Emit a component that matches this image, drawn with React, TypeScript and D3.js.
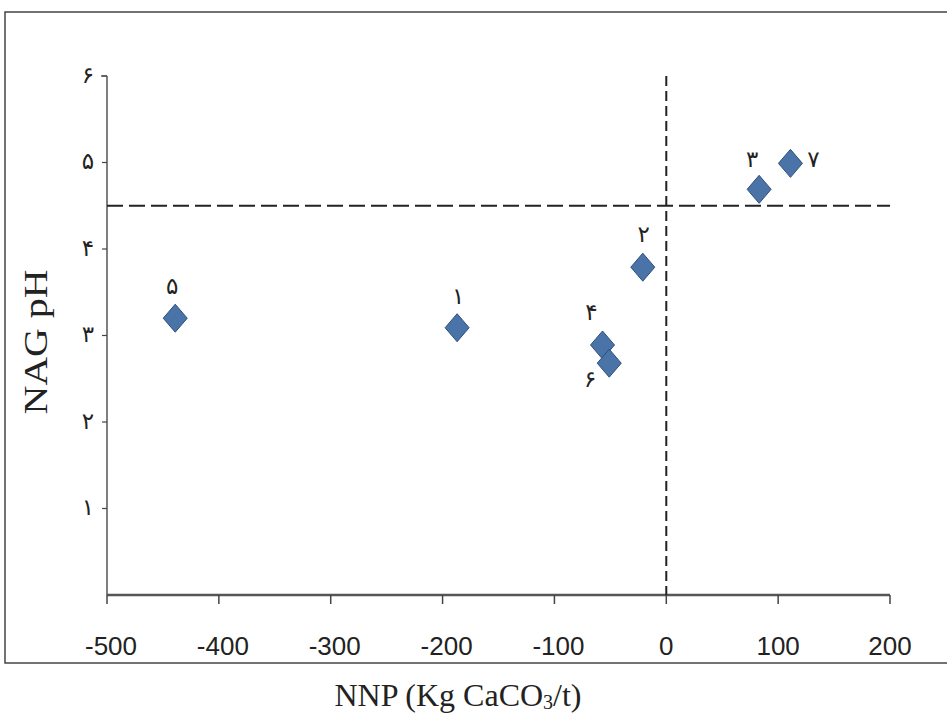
import React from "react";
import * as d3 from "d3";

const labels = ["۱", "۲", "۳", "۴", "۵", "۶", "۷"];
const nnp = [-187, -21, 83, -57, -439, -51, 111];
const nagPh = [3.09, 3.79, 4.69, 2.89, 3.2, 2.68, 4.99];
const xTicks = [-500, -400, -300, -200, -100, 0, 100, 200];
const yTicks = [1, 2, 3, 4, 5, 6];
const yTickLabels = ["۱", "۲", "۳", "۴", "۵", "۶"];
const phThreshold = 4.5;
const nnpThreshold = 0;

// label centre offsets per point (dx, dy)
const labelPos: [number, number][] = [
  [1, -31], [1, -32], [-7, -29], [-11, -32], [-3, -31], [-19, 17], [23, -3],
];

export default function App() {
  const W = 947, H = 715;
  const x = d3.scaleLinear().domain([-500, 200]).range([107, 890]);
  const y = d3.scaleLinear().domain([0, 6]).range([595, 76]);
  const dw = 12, dh = 14;
  const diamond = `M0,${-dh}L${dw},0L0,${dh}L${-dw},0Z`;
  const pFont = "'DejaVu Sans', 'Noto Sans'";
  const pSize = 23;
  const serif = "'Liberation Serif', 'DejaVu Serif', serif";
  return (
    <svg width={W} height={H} style={{ position: "absolute", left: 0, top: 0, background: "#fff" }}>
      <rect x={5} y={12} width={960} height={651} fill="#fff" stroke="#444" strokeWidth={1.5} />
      {/* axes */}
      <line x1={x(-500)} x2={x(200)} y1={y(0)} y2={y(0)} stroke="#555" strokeWidth={2.5} />
      <line x1={x(-500)} x2={x(-500)} y1={y(6)} y2={y(0)} stroke="#555" strokeWidth={1.5} />
      {xTicks.map((t) => (
        <g key={t}>
          <line x1={x(t)} x2={x(t)} y1={y(0)} y2={y(0) + 9} stroke="#444" strokeWidth={1.5} />
          <text x={x(t) + (t < 0 ? 4 : 0)} y={655} textAnchor="middle"
            style={{ fontFamily: "'Liberation Sans', Arial", fontSize: 26 }} fill="#222">
            {t}
          </text>
        </g>
      ))}
      <line x1={x(-500) - 6} x2={x(-500)} y1={y(6)} y2={y(6)} stroke="#444" strokeWidth={1.2} />
      {yTicks.map((t, i) => (
        <g key={t}>
          <line x1={x(-500) - 5} x2={x(-500)} y1={y(t)} y2={y(t)} stroke="#444" strokeWidth={1.2} />
          <text x={x(-500) - 19} y={y(t) + pSize * 0.3} textAnchor="middle"
            style={{ fontFamily: pFont, fontSize: pSize }} fill="#222">
            {yTickLabels[i]}
          </text>
        </g>
      ))}
      {/* threshold dashed lines */}
      <line x1={x(-500)} x2={x(200)} y1={y(phThreshold)} y2={y(phThreshold)} stroke="#222"
        strokeWidth={2} strokeDasharray="16 6" />
      <line x1={x(nnpThreshold)} x2={x(nnpThreshold)} y1={y(6)} y2={y(0)} stroke="#222"
        strokeWidth={2} strokeDasharray="10 5" />
      {/* points */}
      {nnp.map((v, i) => (
        <g key={i}>
          <path d={diamond} transform={`translate(${x(v)},${y(nagPh[i])})`} fill="#4a74a8"
            stroke="#2f4f7a" strokeWidth={1} />
          <text x={x(v) + labelPos[i][0]} y={y(nagPh[i]) + labelPos[i][1] + pSize * 0.3} textAnchor="middle"
            style={{ fontFamily: pFont, fontSize: pSize }} fill="#222">
            {labels[i]}
          </text>
        </g>
      ))}
      {/* axis titles */}
      <text transform={`translate(47,342) rotate(-90)`} textAnchor="middle"
        textLength={145} lengthAdjust="spacingAndGlyphs"
        style={{ fontFamily: serif, fontSize: 33 }} fill="#222">
        NAG pH
      </text>
      <text x={458} y={706} textAnchor="middle"
        style={{ fontFamily: serif, fontSize: 32 }} fill="#222">
        NNP (Kg CaCO<tspan fontSize={20} dy={3}>3</tspan><tspan dy={-3}>/t)</tspan>
      </text>
    </svg>
  );
}
